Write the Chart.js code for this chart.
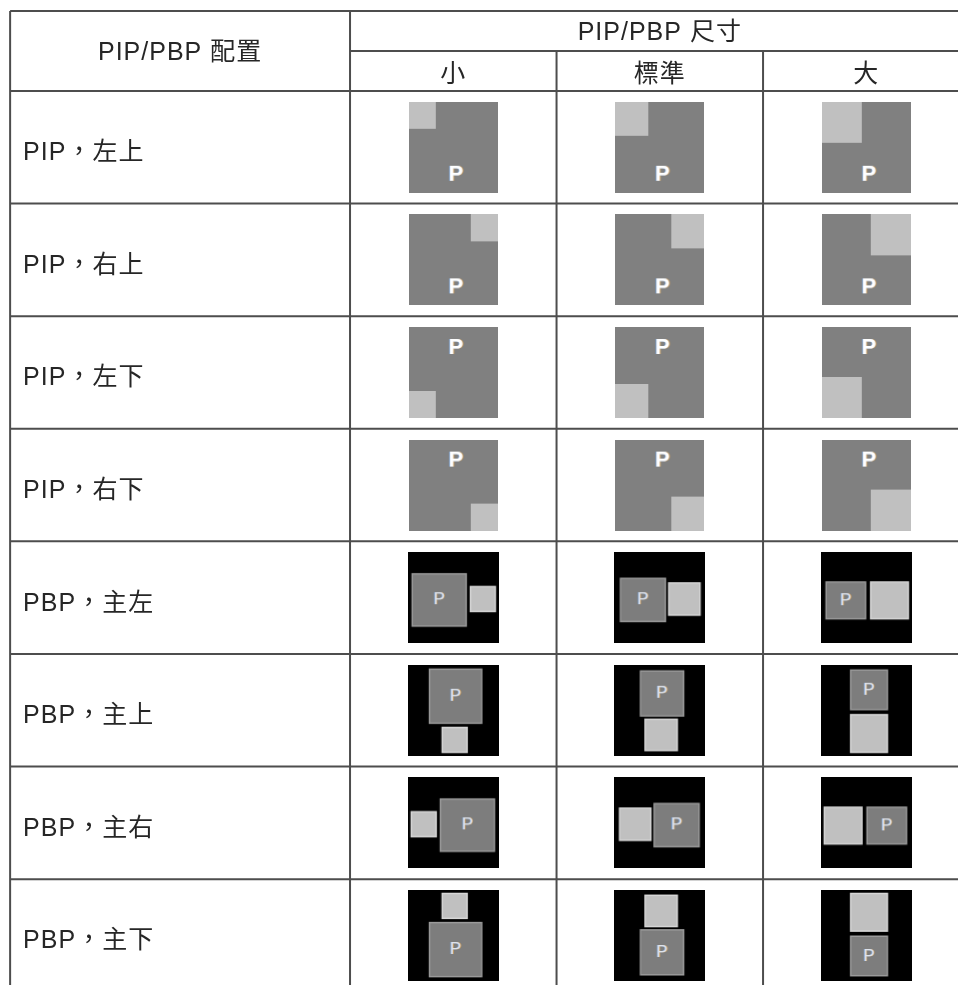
<!DOCTYPE html>
<html lang="zh-Hant">
<head>
<meta charset="utf-8">
<title>PIP/PBP 配置與尺寸</title>
<script src="https://cdn.jsdelivr.net/npm/chart.js@4.4.1/dist/chart.umd.min.js"></script>
<style>
  html, body { margin: 0; padding: 0; background: #fff; }
  #chart { display: block; }
</style>
</head>
<body>
<canvas id="chart" width="958" height="985"></canvas>
<script>
// 表頭文字
const layoutHeader = 'PIP/PBP 配置';
const sizeHeader = 'PIP/PBP 尺寸';
const sizeLabels = ['小', '標準', '大'];

// 每一列：說明文字、模式、子畫面位置
const rowLabels = ['PIP，左上', 'PIP，右上', 'PIP，左下', 'PIP，右下', 'PBP，主左', 'PBP，主上', 'PBP，主右', 'PBP，主下'];
const rowModes = ['pip', 'pip', 'pip', 'pip', 'pbp', 'pbp', 'pbp', 'pbp'];
const rowPlaces = ['tl', 'tr', 'bl', 'br', 'left', 'top', 'right', 'bottom'];

// PIP 子畫面佔圖示的比例（小 / 標準 / 大）
const pipScale = [0.30, 0.375, 0.45];

// PBP「主左」時主畫面、子畫面的範圍 [x0, x1, y0, y1]，圖示 = 1
const pbpMain = [[0.04, 0.65, 0.23, 0.82], [0.06, 0.57, 0.28, 0.77], [0.05, 0.50, 0.32, 0.74]];
const pbpSub = [[0.68, 0.97, 0.37, 0.66], [0.59, 0.95, 0.33, 0.70], [0.54, 0.97, 0.32, 0.74]];

// 表格框線位置（x: 尺寸欄為單位, y: 列為單位）
const LEFT = -1.646, RIGHT = 3.3, TOP = -0.71, MID = -0.355;
const BOTTOM = rowLabels.length;

const FONT = '"Liberation Sans", "Noto Sans CJK TC", sans-serif';
const LINE = '#4d4d4d';

function drawP(g, x, y, font, color) {
    g.font = font;
    g.textAlign = 'center';
    g.textBaseline = 'middle';
    g.fillStyle = 'rgba(215,165,95,0.85)';
    g.fillText('P', x + 0.8, y);
    g.fillStyle = 'rgba(120,170,235,0.85)';
    g.fillText('P', x - 0.8, y);
    g.fillStyle = color;
    g.fillText('P', x, y);
}

function box(g, r, W, H, fill, edge) {
    const x = r[0] * W, y = r[2] * H, w = (r[1] - r[0]) * W, h = (r[3] - r[2]) * H;
    g.save();
    g.filter = 'blur(0.7px)';
    g.fillStyle = edge;
    g.fillRect(x, y, w, h);
    g.fillStyle = fill;
    g.fillRect(x + 1.5, y + 1.5, w - 3, h - 3);
    g.restore();
}

// 把「主左」的範圍轉到其他位置
function place(r, where) {
    if (where === 'right') return [1 - r[1], 1 - r[0], r[2], r[3]];
    if (where === 'top') return [r[2], r[3], r[0], r[1]];
    if (where === 'bottom') return [r[2], r[3], 1 - r[1], 1 - r[0]];
    return r;
}

function makeIcon(mode, where, k) {
    const c = document.createElement('canvas');
    const W = mode === 'pip' ? 89 : 91, H = 91;
    c.width = W; c.height = H;
    const g = c.getContext('2d');
    if (mode === 'pip') {
        g.fillStyle = '#808080';
        g.fillRect(0, 0, W, H);
        const sw = Math.round(W * pipScale[k]), sh = Math.round(H * pipScale[k]);
        const top = where[0] === 't', left = where[1] === 'l';
        g.fillStyle = '#c0c0c0';
        g.fillRect(left ? 0 : W - sw, top ? 0 : H - sh, sw, sh);
        drawP(g, W * 0.53, H * (top ? 0.8 : 0.23), 'bold 22px ' + FONT, '#ffffff');
    } else {
        g.fillStyle = '#000000';
        g.fillRect(0, 0, W, H);
        const m = place(pbpMain[k], where), s = place(pbpSub[k], where);
        box(g, s, W, H, '#c0c0c0', '#d6d6d6');
        box(g, m, W, H, '#7d7d7d', '#9a9a9a');
        drawP(g, (m[0] + m[1]) / 2 * W, (m[2] + m[3]) / 2 * H, '17px ' + FONT, '#dfe3ea');
    }
    return c;
}

// 框線
const rules = [
    [[LEFT, TOP], [RIGHT, TOP]],
    [[0, MID], [RIGHT, MID]],
    ...rowLabels.map((_, i) => [[LEFT, i], [RIGHT, i]]),
    [[LEFT, BOTTOM], [RIGHT, BOTTOM]],
    [[LEFT, TOP], [LEFT, BOTTOM]],
    [[0, TOP], [0, BOTTOM]],
    [[1, MID], [1, BOTTOM]],
    [[2, MID], [2, BOTTOM]],
    [[3, MID], [3, BOTTOM]]
];

// 圖示點
const iconPoints = [];
const iconStyles = [];
rowLabels.forEach((_, i) => {
    sizeLabels.forEach((__, j) => {
        iconPoints.push({ x: j + 0.5, y: i + 0.5 });
        iconStyles.push(makeIcon(rowModes[i], rowPlaces[i], j));
    });
});

const datasets = [{
    label: 'icons',
    data: iconPoints,
    pointStyle: iconStyles,
    pointRadius: 10,
    borderWidth: 0
}].concat(rules.map((r, n) => ({
    label: 'rule' + n,
    data: r.map(p => ({ x: p[0], y: p[1] })),
    showLine: true,
    borderColor: LINE,
    borderWidth: 2,
    pointRadius: 0
})));

const tableText = {
    id: 'tableText',
    afterDatasetsDraw(chart) {
        const { ctx, scales: { x, y } } = chart;
        ctx.save();
        ctx.fillStyle = '#262626';
        ctx.font = '25px ' + FONT;
        ctx.letterSpacing = '1px';
        ctx.textBaseline = 'middle';

        ctx.textAlign = 'center';
        ctx.fillText(layoutHeader, x.getPixelForValue(LEFT / 2), y.getPixelForValue(TOP / 2) + 2);
        ctx.fillText(sizeHeader, x.getPixelForValue(1.5), y.getPixelForValue((TOP + MID) / 2) + 2);
        sizeLabels.forEach((s, j) => {
            ctx.fillText(s, x.getPixelForValue(j + 0.5), y.getPixelForValue(MID / 2) + 4);
        });

        ctx.textAlign = 'left';
        rowLabels.forEach((s, i) => {
            ctx.fillText(s, x.getPixelForValue(LEFT) + 13, y.getPixelForValue(i + 0.5) + 6);
        });
        ctx.restore();
    }
};

new Chart(document.getElementById('chart'), {
    type: 'scatter',
    data: { datasets },
    options: {
        responsive: false,
        animation: false,
        events: [],
        layout: { padding: 0, autoPadding: false },
        plugins: { legend: { display: false }, tooltip: { enabled: false } },
        scales: {
            x: { type: 'linear', display: false, min: -1.695, max: 2.944 },
            y: { type: 'linear', display: false, min: -0.808, max: 7.94, reverse: true }
        }
    },
    plugins: [tableText]
});
</script>
</body>
</html>
